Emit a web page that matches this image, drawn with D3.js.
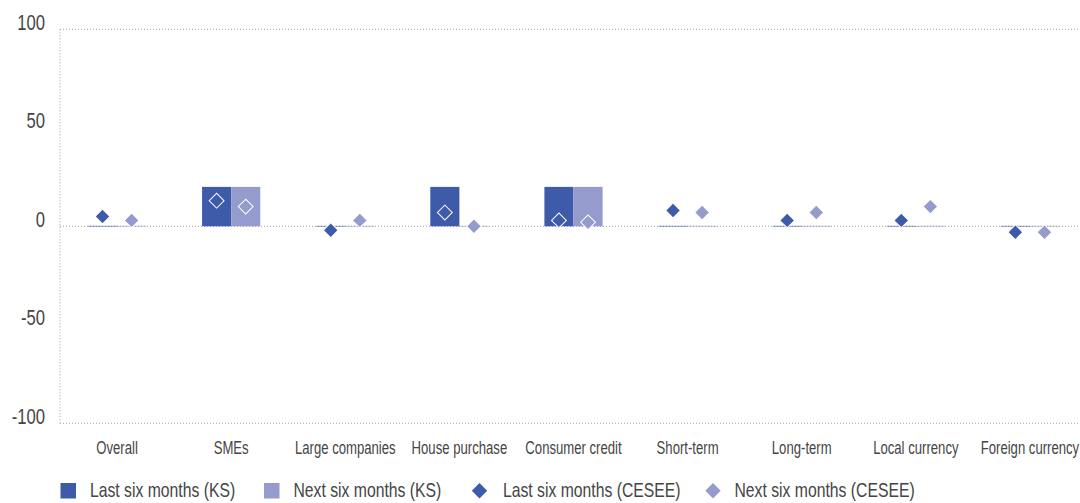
<!DOCTYPE html>
<html>
<head>
<meta charset="utf-8">
<script src="https://cdn.jsdelivr.net/npm/d3@7"></script>
<style>
  html, body { margin: 0; padding: 0; background: #fff; }
  svg { display: block; }
  text { font-family: "Liberation Sans", Arial, sans-serif; fill: #454545; }
</style>
</head>
<body>
<svg id="chart" width="1080" height="503"></svg>
<script>
// Credit standards survey: KS bars versus CESEE diamonds
const categories = ["Overall", "SMEs", "Large companies", "House purchase", "Consumer credit",
                    "Short-term", "Long-term", "Local currency", "Foreign currency"];
const lastKS     = [0, 20, 0, 20, 20, 0, 0, 0, 0];
const nextKS     = [0, 20, 0, 0, 20, 0, 0, 0, 0];
const lastCESEE  = [5, 13, -2, 7, 3, 8, 3, 3, -3];
const nextCESEE  = [3, 10, 3, 0, 2, 7, 7, 10, -3];
const yTicks     = [100, 50, 0, -50, -100];
const legendLabels = ["Last six months (KS)", "Next six months (KS)",
                      "Last six months (CESEE)", "Next six months (CESEE)"];

const darkBlue = "#3e5ba9";
const lightBlue = "#959ccd";
const gridColor = "#a0a0a0";

const svg = d3.select("#chart");
const plotLeft = 60, plotRight = 1087, plotTop = 29.3, plotBottom = 423.3;

const x = d3.scaleBand().domain(categories).range([plotLeft, plotRight]);
const bw = x.bandwidth();
const sub = d3.scaleBand().domain(["last", "next"]).range([bw * 0.245, bw * 0.755]);
const y = d3.scaleLinear().domain([-100, 100]).range([plotBottom, plotTop]);

// condensed text: horizontal squeeze around the anchor point
function condensed(sel, sx) {
  return sel.attr("transform", function () {
    const tx = +this.getAttribute("data-x"), ty = +this.getAttribute("data-y");
    return `translate(${tx},${ty}) scale(${sx},1)`;
  });
}

// dotted frame lines
const g = svg.append("g");
[100, 0, -100].forEach(v => {
  g.append("line")
    .attr("x1", plotLeft).attr("x2", 1080)
    .attr("y1", y(v)).attr("y2", y(v))
    .attr("stroke", gridColor).attr("stroke-width", 1)
    .attr("stroke-dasharray", "1,2");
});
g.append("line")
  .attr("x1", plotLeft).attr("x2", plotLeft)
  .attr("y1", y(100)).attr("y2", y(-100))
  .attr("stroke", gridColor).attr("stroke-width", 1)
  .attr("stroke-dasharray", "1,2");

// y tick labels
svg.append("g").selectAll("text").data(yTicks).join("text")
  .attr("data-x", 45).attr("data-y", d => y(d) + 0.5)
  .attr("text-anchor", "end")
  .attr("font-size", 22.5)
  .text(d => d)
  .call(condensed, 0.74);

// bars
const barSeries = [
  { key: "last", values: lastKS, color: darkBlue },
  { key: "next", values: nextKS, color: lightBlue }
];
barSeries.forEach(s => {
  const bg = svg.append("g");
  categories.forEach((c, i) => {
    const v = s.values[i];
    const bx = x(c) + sub(s.key);
    if (v === 0) {
      bg.append("line")
        .attr("x1", bx).attr("x2", bx + sub.bandwidth())
        .attr("y1", y(0)).attr("y2", y(0))
        .attr("stroke", s.color).attr("stroke-opacity", 0.6).attr("stroke-width", 1);
    } else {
      bg.append("rect")
        .attr("x", bx).attr("width", sub.bandwidth())
        .attr("y", y(Math.max(0, v)))
        .attr("height", Math.abs(y(v) - y(0)))
        .attr("fill", s.color);
    }
  });
});

// diamonds
const diamond = d3.symbol().type(d3.symbolSquare).size(110);
const pointSeries = [
  { key: "last", values: lastCESEE, color: darkBlue },
  { key: "next", values: nextCESEE, color: lightBlue }
];
pointSeries.forEach(s => {
  svg.append("g").selectAll("path").data(categories).join("path")
    .attr("d", diamond)
    .attr("transform", (c, i) =>
      `translate(${x(c) + sub(s.key) + sub.bandwidth() / 2},${y(s.values[i])}) rotate(45)`)
    .attr("fill", s.color)
    .attr("stroke", "#fff").attr("stroke-width", 1);
});

// category labels
svg.append("g").selectAll("text").data(categories).join("text")
  .attr("data-x", c => x(c) + bw / 2)
  .attr("data-y", 454)
  .attr("text-anchor", "middle")
  .attr("font-size", 18.5)
  .text(c => c)
  .call(condensed, 0.71);

// legend
const legend = svg.append("g");
const legendItems = [
  { label: legendLabels[0], color: darkBlue, shape: "square", x: 60.5, tx: 90 },
  { label: legendLabels[1], color: lightBlue, shape: "square", x: 264, tx: 293.5 },
  { label: legendLabels[2], color: darkBlue, shape: "diamond", x: 479.5, tx: 503 },
  { label: legendLabels[3], color: lightBlue, shape: "diamond", x: 713, tx: 734.5 }
];
legendItems.forEach(it => {
  if (it.shape === "square") {
    legend.append("rect")
      .attr("x", it.x).attr("y", 483).attr("width", 15.5).attr("height", 15.5)
      .attr("fill", it.color);
  } else {
    legend.append("path")
      .attr("d", d3.symbol().type(d3.symbolSquare).size(118)())
      .attr("transform", `translate(${it.x},490.8) rotate(45)`)
      .attr("fill", it.color);
  }
  legend.append("text")
    .attr("data-x", it.tx).attr("data-y", 497)
    .attr("font-size", 21)
    .text(it.label)
    .call(condensed, 0.75);
});
</script>
</body>
</html>
